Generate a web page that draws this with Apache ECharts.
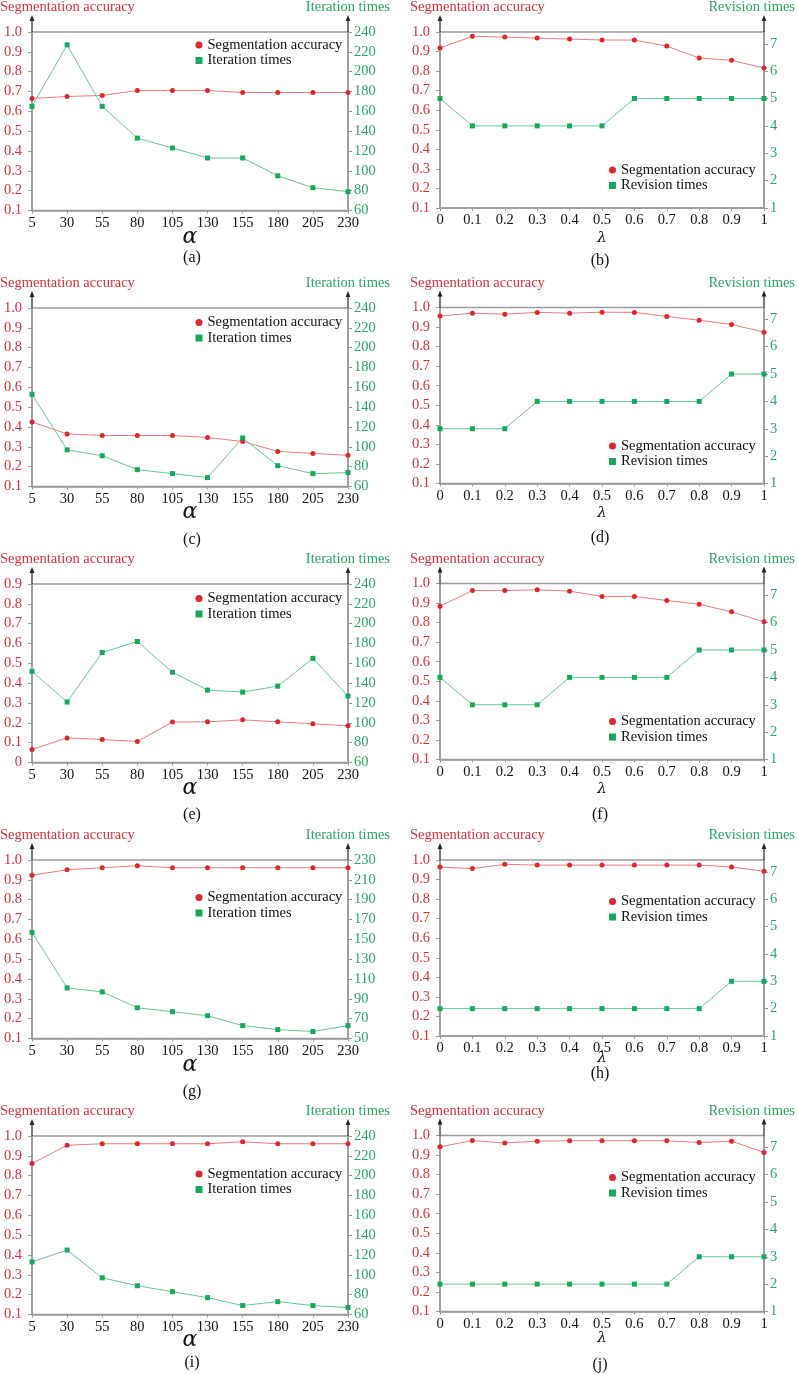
<!DOCTYPE html>
<html>
<head>
<meta charset="utf-8">
<script src="https://cdn.jsdelivr.net/npm/echarts@6/dist/echarts.min.js"></script>
<style>
html,body{margin:0;padding:0;background:#fff;}
#chart{width:798px;height:1374px;}
</style>
</head>
<body>
<div id="chart"></div>
<script>
// ---------- data ----------
const alphaCats = ['5','30','55','80','105','130','155','180','205','230'];
const lambdaCats = ['0','0.1','0.2','0.3','0.4','0.5','0.6','0.7','0.8','0.9','1'];

const accA  = [0.665,0.675,0.68,0.705,0.705,0.705,0.695,0.695,0.695,0.695];
const iterA = [165,227,165,133,123,113,113,95,83,79];
const accB  = [0.918,0.978,0.974,0.969,0.964,0.959,0.959,0.928,0.867,0.855,0.816];
const revB  = [5,4,4,4,4,4,5,5,5,5,5];
const accC  = [0.425,0.365,0.357,0.357,0.357,0.347,0.327,0.277,0.267,0.257];
const iterC = [153,97,91,77,73,69,109,81,73,74];
const accD  = [0.956,0.971,0.966,0.975,0.971,0.976,0.975,0.954,0.935,0.913,0.874];
const revD  = [3,3,3,4,4,4,4,4,4,5,5];
const accE  = [0.066,0.124,0.116,0.106,0.204,0.205,0.215,0.205,0.195,0.185];
const iterE = [152,121,171,182,151,133,131,137,165,127];
const accF  = [0.884,0.964,0.964,0.968,0.961,0.934,0.934,0.913,0.894,0.855,0.804];
const revF  = [4,3,3,3,4,4,4,4,5,5,5];
const accG  = [0.923,0.951,0.961,0.971,0.961,0.961,0.961,0.961,0.961,0.961];
const iterG = [157,101,97,81,77,73,63,59,57,63];
const accH  = [0.964,0.956,0.978,0.974,0.974,0.974,0.974,0.974,0.974,0.964,0.943];
const revH  = [2,2,2,2,2,2,2,2,2,3,3];
const accI  = [0.861,0.953,0.961,0.961,0.961,0.961,0.971,0.961,0.961,0.961];
const iterI = [113,125,97,89,83,77,69,73,69,67];
const accJ  = [0.942,0.974,0.962,0.971,0.973,0.973,0.973,0.973,0.964,0.971,0.913];
const revJ  = [2,2,2,2,2,2,2,2,3,3,3];

const accName = 'Segmentation accuracy';
const iterName = 'Iteration times';
const revName = 'Revision times';

// ---------- panel definitions ----------
const panels = [
  {cap:'(a)', col:0, row:0, cats:alphaCats, acc:accA, other:iterA, otherName:iterName, lmin:0.1, lmax:1.0, rmin:60, rmax:240, rint:20, xName:'α', legendTop:37.5},
  {cap:'(b)', col:1, row:0, cats:lambdaCats, acc:accB, other:revB, otherName:revName, lmin:0.1, lmax:1.0, rmin:1, rmax:7.43, rint:1, xName:'λ', legendTop:162.5},
  {cap:'(c)', col:0, row:1, cats:alphaCats, acc:accC, other:iterC, otherName:iterName, lmin:0.1, lmax:1.0, rmin:60, rmax:240, rint:20, xName:'α', legendTop:315},
  {cap:'(d)', col:1, row:1, cats:lambdaCats, acc:accD, other:revD, otherName:revName, lmin:0.1, lmax:1.0, rmin:1, rmax:7.43, rint:1, xName:'λ', legendTop:438.5},
  {cap:'(e)', col:0, row:2, cats:alphaCats, acc:accE, other:iterE, otherName:iterName, lmin:0, lmax:0.9, rmin:60, rmax:240, rint:20, xName:'α', legendTop:591},
  {cap:'(f)', col:1, row:2, cats:lambdaCats, acc:accF, other:revF, otherName:revName, lmin:0.1, lmax:1.0, rmin:1, rmax:7.43, rint:1, xName:'λ', legendTop:714},
  {cap:'(g)', col:0, row:3, cats:alphaCats, acc:accG, other:iterG, otherName:iterName, lmin:0.1, lmax:1.0, rmin:50, rmax:230, rint:20, xName:'α', legendTop:890},
  {cap:'(h)', col:1, row:3, cats:lambdaCats, acc:accH, other:revH, otherName:revName, lmin:0.1, lmax:1.0, rmin:1, rmax:7.43, rint:1, xName:'λ', legendTop:894},
  {cap:'(i)', col:0, row:4, cats:alphaCats, acc:accI, other:iterI, otherName:iterName, lmin:0.1, lmax:1.0, rmin:60, rmax:240, rint:20, xName:'α', legendTop:1166.5},
  {cap:'(j)', col:1, row:4, cats:lambdaCats, acc:accJ, other:revJ, otherName:revName, lmin:0.1, lmax:1.0, rmin:1, rmax:7.43, rint:1, xName:'λ', legendTop:1170}
];

// ---------- layout ----------
const colLeft = [32, 440];
const colWidth = [316, 324];
const colHeight = [178.5, 176];
const rowTops = [[32, 308, 584, 860, 1136], [32, 307.5, 583.5, 860, 1135.5]];
const titleY = [7, 283, 559, 835, 1111];
const xNameY = [[237, 512, 788, 1065, 1340], [238, 513, 789, 1058, 1338]];
const capY = [[258, 540, 815, 1092, 1363], [261, 538, 815, 1074, 1365]];
const legendLeft = [195.5, 609];

const RED = '#e0262b', RED_LINE = '#ee7b7b', RED_TXT = '#dc3038';
const GREEN = '#17a85a', GREEN_LINE = '#66c894', GREEN_TXT = '#27a866';
const GRAY = '#9a9a9a';
const FONT = 'Liberation Serif';

const grids = [], xAxes = [], yAxes = [], series = [], legends = [], graphics = [];

panels.forEach((p, i) => {
  const c = p.col, r = p.row;
  const left = colLeft[c], top = rowTops[c][r], w = colWidth[c], h = colHeight[c];
  grids.push({left: left, top: top, width: w, height: h, show: true, borderColor: GRAY, borderWidth: 1.5,
              containLabel: false, outerBoundsMode: 'none'});
  xAxes.push({
    type: 'category', gridIndex: i, data: p.cats, boundaryGap: false,
    axisLine: {lineStyle: {color: GRAY, width: 1.5}},
    axisTick: {show: true, length: 3, alignWithLabel: true, lineStyle: {color: GRAY}},
    axisLabel: {color: '#111', fontFamily: FONT, fontSize: 14.5, margin: 5, interval: 0},
    splitLine: {show: false}
  });
  const isRev = p.otherName === revName;
  yAxes.push({
    type: 'value', gridIndex: i, position: 'left', min: p.lmin, max: p.lmax, interval: 0.1,
    axisLine: {show: true, lineStyle: {color: GRAY, width: 1.5}},
    axisTick: {show: true, length: 4, lineStyle: {color: GRAY}},
    axisLabel: {color: RED_TXT, fontFamily: FONT, fontSize: 14.5, margin: 10,
                formatter: v => (Math.abs(v) < 1e-9 ? '0' : v.toFixed(1))},
    splitLine: {show: false}
  });
  yAxes.push({
    type: 'value', gridIndex: i, position: 'right', min: p.rmin, max: p.rmax, interval: p.rint,
    axisLine: {show: true, lineStyle: {color: GRAY, width: 1.5}},
    axisTick: {show: true, length: 4, lineStyle: {color: GRAY}},
    axisLabel: {color: GREEN_TXT, fontFamily: FONT, fontSize: 14.5, margin: 6,
                showMaxLabel: !isRev, formatter: v => String(Math.round(v))},
    splitLine: {show: false}
  });
  series.push({
    name: accName, type: 'line', xAxisIndex: i, yAxisIndex: 2 * i, data: p.acc,
    symbol: 'circle', symbolSize: 5, color: RED,
    itemStyle: {color: RED}, lineStyle: {color: RED_LINE, width: 1}, z: 3
  });
  series.push({
    name: p.otherName, type: 'line', xAxisIndex: i, yAxisIndex: 2 * i + 1, data: p.other,
    symbol: 'rect', symbolSize: 5, color: GREEN,
    itemStyle: {color: GREEN}, lineStyle: {color: GREEN_LINE, width: 1}, z: 3
  });
  legends.push({
    left: legendLeft[c], top: p.legendTop, orient: 'vertical', padding: 0, itemGap: 0.5,
    itemWidth: 7, itemHeight: 7, selectedMode: false,
    textStyle: {fontFamily: FONT, fontSize: 14.5, color: '#111', lineHeight: 15},
    data: [{name: accName, icon: 'circle', itemStyle: {color: RED}},
           {name: p.otherName, icon: 'rect', itemStyle: {color: GREEN}}]
  });

  // axis titles
  graphics.push({type: 'text', x: c === 0 ? 0 : 410, y: titleY[r], z: 100,
    style: {text: accName, fill: RED_TXT, font: '14.5px "Liberation Serif"', align: 'left', verticalAlign: 'middle'}});
  graphics.push({type: 'text', x: c === 0 ? 390 : 795, y: titleY[r], z: 100,
    style: {text: p.otherName, fill: GREEN_TXT, font: '14.5px "Liberation Serif"', align: 'right', verticalAlign: 'middle'}});
  // axis arrows: thin stem + small head, drawn as filled shapes
  [left, left + w].forEach(ax => {
    graphics.push({type: 'rect', z: 100, x: ax - 0.6, y: top - 13,
      shape: {x: 0, y: 0, width: 1.2, height: 13},
      style: {fill: '#222', stroke: null}});
    graphics.push({type: 'polygon', z: 100, x: ax, y: top - 17,
      shape: {points: [[0, 0], [-2.4, 6], [2.4, 6]]},
      style: {fill: '#222', stroke: null}});
  });
  // x-axis symbol name
  const cx = left + w / 2;
  graphics.push({type: 'text', x: cx, y: xNameY[c][r], z: 100,
    style: {text: p.xName, fill: '#111',
            font: (p.xName === 'α' ? 'italic 22px ' : 'italic 15px ') + '"DejaVu Serif"',
            align: 'center', verticalAlign: 'middle'}});
  // caption
  graphics.push({type: 'text', x: c === 0 ? 192 : 600, y: capY[c][r], z: 100,
    style: {text: p.cap, fill: '#111', font: '16px "Liberation Serif"', align: 'center', verticalAlign: 'middle'}});
});

const chart = echarts.init(document.getElementById('chart'), null, {renderer: 'canvas'});
chart.setOption({
  animation: false,
  backgroundColor: '#fff',
  grid: grids,
  xAxis: xAxes,
  yAxis: yAxes,
  series: series,
  legend: legends,
  graphic: {elements: graphics}
});
</script>
</body>
</html>
